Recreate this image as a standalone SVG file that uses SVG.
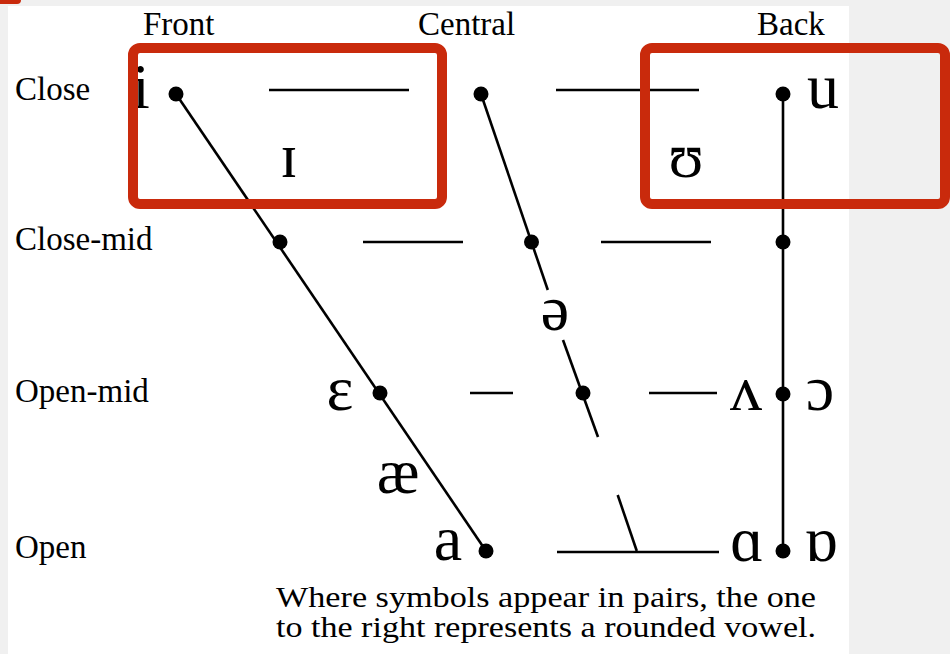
<svg xmlns="http://www.w3.org/2000/svg" width="950" height="654" viewBox="0 0 950 654">
<style>
.lbl{font-family:"Liberation Serif","Times New Roman",serif;font-size:33px;fill:#000}
.sym{font-family:"Liberation Serif",serif;font-size:64px;font-weight:normal;font-style:normal;fill:#000;text-anchor:middle}
.cap{font-family:"Liberation Serif","Times New Roman",serif;font-size:30px;fill:#000}
.ln{stroke:#000;stroke-width:2.6;fill:none}
.dot{fill:#000}
.mark{fill:none;stroke:#c92a0c;stroke-width:10}
</style>
<rect x="0" y="0" width="950" height="654" fill="#f0f0f0"/>
<rect x="8" y="6" width="841" height="648" fill="#fff"/>
<g id="headers">
<text class="lbl" x="143" y="35">Front</text>
<text class="lbl" x="418" y="35">Central</text>
<text class="lbl" x="757" y="35">Back</text>
</g>
<g id="rows">
<text class="lbl" x="15" y="100">Close</text>
<text class="lbl" x="15" y="250">Close-mid</text>
<text class="lbl" x="15" y="402">Open-mid</text>
<text class="lbl" x="15" y="558">Open</text>
</g>
<g id="connectors">
<line class="ln" x1="176" y1="94" x2="486" y2="551"/>
<line class="ln" x1="481" y1="94" x2="547.8" y2="290"/>
<line class="ln" x1="563" y1="340" x2="598" y2="437"/>
<line class="ln" x1="617.7" y1="495" x2="636.8" y2="551"/>
<line class="ln" x1="783" y1="94" x2="783" y2="551"/>
<line class="ln" x1="269" y1="90" x2="409" y2="90"/>
<line class="ln" x1="556" y1="90" x2="699" y2="90"/>
<line class="ln" x1="363" y1="242" x2="463" y2="242"/>
<line class="ln" x1="601" y1="242" x2="711" y2="242"/>
<line class="ln" x1="470" y1="393" x2="513" y2="393"/>
<line class="ln" x1="649" y1="393" x2="717" y2="393"/>
<line class="ln" x1="557" y1="552" x2="719" y2="552"/>
</g>
<g id="close-front"><circle class="dot" cx="176" cy="94" r="7.5"/><text class="sym" font-family="Liberation Serif, serif" x="141" y="108">i</text></g>
<g id="near-close-front"><text class="sym" font-family="Liberation Serif, serif" x="289" y="177">ɪ</text></g>
<g id="close-central"><circle class="dot" cx="481" cy="94" r="7.5"/></g>
<g id="close-back"><circle class="dot" cx="783" cy="94" r="7.5"/><text class="sym" font-family="Liberation Serif, serif" x="823" y="108">u</text></g>
<g id="near-close-back"><text class="sym" font-family="Liberation Serif, serif" x="686" y="177">ʊ</text></g>
<g id="close-mid-front"><circle class="dot" cx="280" cy="242" r="7.5"/></g>
<g id="close-mid-central"><circle class="dot" cx="531.5" cy="242" r="7.5"/></g>
<g id="close-mid-back"><circle class="dot" cx="783" cy="242" r="7.5"/></g>
<g id="mid-central"><text class="sym" font-family="Liberation Serif, serif" x="555" y="330">ə</text></g>
<g id="open-mid-front"><circle class="dot" cx="380" cy="393" r="7.5"/><text class="sym" font-family="Liberation Serif, serif" x="340" y="410">ɛ</text></g>
<g id="open-mid-central"><circle class="dot" cx="583" cy="393" r="7.5"/></g>
<g id="open-mid-back"><circle class="dot" cx="783" cy="394" r="7.5"/><text class="sym" font-family="Liberation Serif, serif" x="746" y="410">ʌ</text><text class="sym" font-family="Liberation Serif, serif" x="820" y="410">ɔ</text></g>
<g id="near-open-front"><text class="sym" font-family="Liberation Serif, serif" x="398" y="493">æ</text></g>
<g id="open-front"><circle class="dot" cx="486" cy="551" r="7.5"/><text class="sym" font-family="Liberation Serif, serif" x="448" y="560">a</text></g>
<g id="open-back"><circle class="dot" cx="783" cy="551" r="7.5"/><text class="sym" font-family="Liberation Serif, serif" x="747" y="561">ɑ</text><text class="sym" font-family="Liberation Serif, serif" x="821" y="561">ɒ</text></g>
<g id="caption">
<text class="cap" x="276" y="607" textLength="540" lengthAdjust="spacingAndGlyphs">Where symbols appear in pairs, the one</text>
<text class="cap" x="276" y="637" textLength="540" lengthAdjust="spacingAndGlyphs">to the right represents a rounded vowel.</text>
</g>
<g id="highlights">
<rect x="-20" y="-20" width="41" height="24" rx="4" fill="#c92a0c"/>
<rect class="mark" x="133" y="48" width="309" height="156" rx="7"/>
<rect class="mark" x="645" y="48" width="300" height="156" rx="7"/>
</g>
</svg>
